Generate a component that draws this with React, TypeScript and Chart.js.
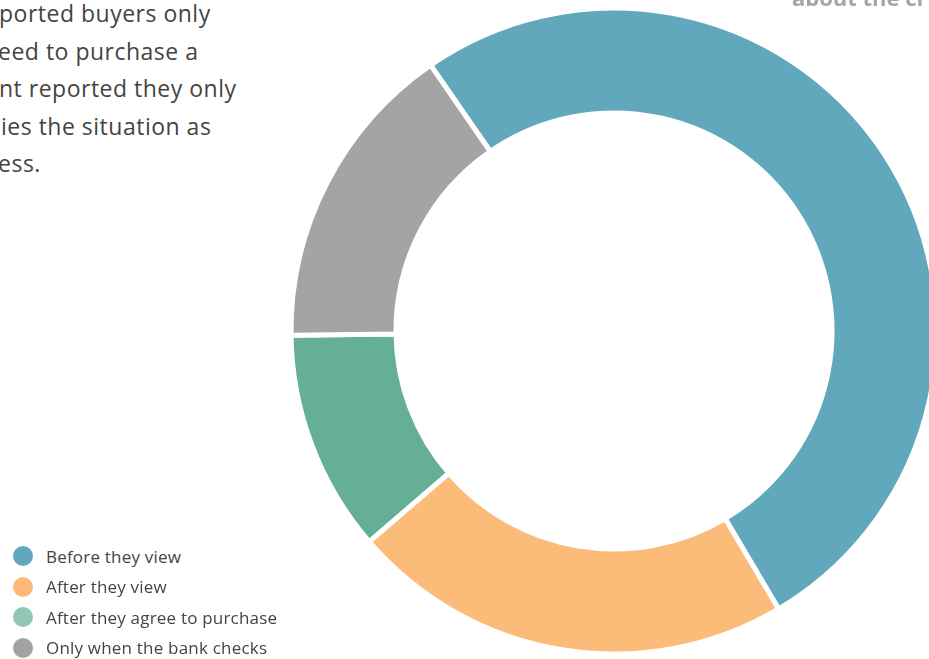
import React, { useEffect, useRef } from "react";
import { Chart, registerables } from "chart.js";

Chart.register(...registerables);

const categories = [
  "Before they view",
  "After they view",
  "After they agree to purchase",
  "Only when the bank checks",
];
const shares = [51.1, 22.2, 11.1, 15.6];
const sliceColors = ["#62a8bd", "#fbbb79", "#65af97", "#a4a4a4"];
const legendColors = ["#62a8bd", "#fcb97a", "#93c7b5", "#a3a3a3"];
const paragraphLines = [
  "ported buyers only",
  "eed to purchase a",
  "nt reported they only",
  "ies the situation as",
  "ess.",
];
const headingFragment = "about the cl";

const FONT = "'Open Sans', 'Lato', sans-serif";

export default function App() {
  const canvasRef = useRef<HTMLCanvasElement | null>(null);

  useEffect(() => {
    if (!canvasRef.current) return;
    const chart = new Chart(canvasRef.current, {
      type: "doughnut",
      data: {
        labels: categories,
        datasets: [
          {
            data: shares,
            backgroundColor: sliceColors,
            borderColor: "#ffffff",
            borderWidth: 5,
            hoverOffset: 0,
          },
        ],
      },
      options: {
        animation: false,
        responsive: false,
        maintainAspectRatio: false,
        rotation: -34.6,
        radius: 323,
        cutout: "67.5%",
        layout: { padding: 0 },
        plugins: {
          legend: { display: false },
          tooltip: { enabled: false },
          title: { display: false },
        },
      },
    });
    return () => chart.destroy();
  }, []);

  return (
    <div
      style={{
        position: "fixed",
        left: 0,
        top: 0,
        width: 929,
        height: 659,
        overflow: "hidden",
        background: "#ffffff",
        fontFamily: FONT,
      }}
    >
      <canvas
        ref={canvasRef}
        width={700}
        height={700}
        style={{ position: "absolute", left: 264, top: -19, width: 700, height: 700 }}
      />
      {paragraphLines.map((line, i) => (
        <div
          key={i}
          style={{
            position: "absolute",
            left: i === 1 || i === 4 ? -2 : i === 3 ? 1 : -1,
            top: 23 + i * 37.6 - 22,
            fontSize: 23,
            lineHeight: "25px",
            letterSpacing: "0.5px",
            color: "#444444",
            whiteSpace: "nowrap",
          }}
        >
          {line}
        </div>
      ))}
      <div
        style={{
          position: "absolute",
          left: 792,
          top: -15,
          fontSize: 22,
          lineHeight: "24px",
          fontWeight: 700,
          color: "#a6a6a6",
          whiteSpace: "nowrap",
        }}
      >
        {headingFragment}
      </div>
      {categories.map((c, i) => (
        <div
          key={c}
          style={{
            position: "absolute",
            left: 13,
            top: 546 + i * 30.5,
            height: 20,
            display: "flex",
            alignItems: "center",
            whiteSpace: "nowrap",
          }}
        >
          <span
            style={{
              display: "inline-block",
              width: 20,
              height: 20,
              borderRadius: "50%",
              background: legendColors[i],
            }}
          />
          <span style={{ marginLeft: 13, fontSize: 17, color: "#444444", letterSpacing: "0.2px" }}>{c}</span>
        </div>
      ))}
    </div>
  );
}
